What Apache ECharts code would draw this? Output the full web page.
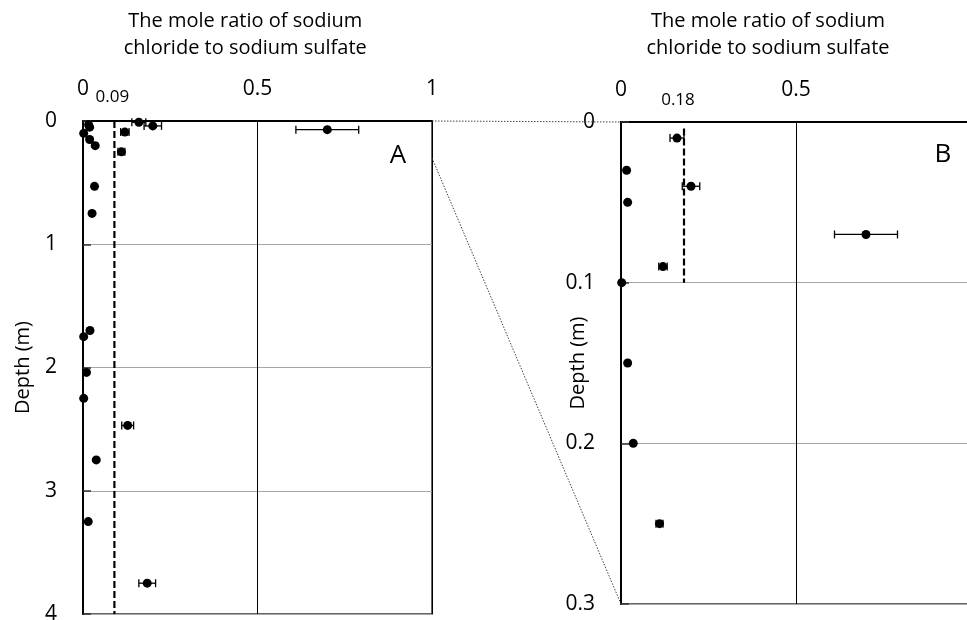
<!DOCTYPE html>
<html>
<head>
<meta charset="utf-8">
<script src="https://cdn.jsdelivr.net/npm/echarts@6/dist/echarts.min.js"></script>
<style>
  html, body { margin: 0; padding: 0; background: #fff; }
  #chart { width: 967px; height: 620px; }
</style>
</head>
<body>
<div id="chart"></div>
<script>
// Shallow samples (0–0.3 m), shown in both panels
const shallowDepth = [0.01, 0.03, 0.04, 0.05, 0.07, 0.09, 0.10, 0.15, 0.20, 0.25];
const shallowRatio = [0.16, 0.016, 0.20, 0.019, 0.70, 0.12, 0.002, 0.019, 0.035, 0.11];
const shallowErr   = [0.02, 0, 0.025, 0, 0.09, 0.012, 0, 0, 0, 0.01];

// Deeper samples, shown in panel A only
const deepDepth = [0.53, 0.75, 1.70, 1.75, 2.04, 2.25, 2.47, 2.75, 3.25, 3.75];
const deepRatio = [0.033, 0.026, 0.02, 0.002, 0.01, 0.002, 0.128, 0.038, 0.015, 0.184];
const deepErr   = [0, 0, 0, 0, 0, 0, 0.017, 0, 0, 0.024];

// Reference ratios (dashed lines)
const refA = 0.09;
const refADepth = [0, 4];
const refB = 0.18;
const refBDepth = [0.004, 0.1];

const xTicks = [0, 0.5, 1];
const yTicksA = [0, 1, 2, 3, 4];
const yTicksB = [0, 0.1, 0.2, 0.3];

const titleLines = ['The mole ratio of sodium', 'chloride to sodium sulfate'];
const FONT = '"Open Sans", "Noto Sans", sans-serif';

const depthA = shallowDepth.concat(deepDepth);
const ratioA = shallowRatio.concat(deepRatio);
const errA = shallowErr.concat(deepErr);

function points(ratio, depth) {
  return ratio.map((r, i) => [r, depth[i]]);
}
function errRows(ratio, depth, err) {
  const rows = [];
  ratio.forEach((r, i) => { if (err[i] > 0) rows.push([r - err[i], r + err[i], depth[i]]); });
  return rows;
}

function errorBarSeries(idx, rows) {
  return {
    type: 'custom',
    xAxisIndex: idx, yAxisIndex: idx,
    data: rows,
    z: 3,
    renderItem: function (params, api) {
      const a = api.coord([api.value(0), api.value(2)]);
      const b = api.coord([api.value(1), api.value(2)]);
      const h = 4;
      const style = { stroke: '#000', lineWidth: 1.3 };
      return {
        type: 'group',
        children: [
          { type: 'line', shape: { x1: a[0], y1: a[1], x2: b[0], y2: b[1] }, style: style },
          { type: 'line', shape: { x1: a[0], y1: a[1] - h, x2: a[0], y2: a[1] + h }, style: style },
          { type: 'line', shape: { x1: b[0], y1: b[1] - h, x2: b[0], y2: b[1] + h }, style: style }
        ]
      };
    }
  };
}

function xAxisDef(idx) {
  return {
    gridIndex: idx, type: 'value', position: 'top',
    min: xTicks[0], max: xTicks[xTicks.length - 1], interval: 0.5,
    axisLine: { show: true, onZero: false, lineStyle: { color: '#000', width: 2 } },
    axisTick: { show: false },
    axisLabel: { color: '#000', fontSize: 21, fontFamily: FONT, margin: 21,
                 formatter: v => (xTicks.indexOf(v) >= 0 ? String(v) : '') },
    splitLine: { show: true, lineStyle: { color: '#000', width: 1 } }
  };
}

function yAxisDef(idx, ticks, interval, gap, margin) {
  return {
    gridIndex: idx, type: 'value', inverse: true,
    min: ticks[0], max: ticks[ticks.length - 1], interval: interval,
    name: 'Depth (m)', nameLocation: 'middle', nameGap: gap, nameRotate: 90,
    nameMoveOverlap: false,
    nameTextStyle: { color: '#000', fontSize: 20, fontFamily: FONT },
    axisLine: { show: true, onZero: false, lineStyle: { color: '#000', width: 2 } },
    axisTick: { show: true, inside: true, length: 8, lineStyle: { color: '#333', width: 1.5 } },
    axisLabel: { color: '#000', fontSize: 21, fontFamily: FONT, margin: margin,
                 formatter: v => String(Math.round(v * 10) / 10) },
    splitLine: { show: true, lineStyle: { color: '#a6a6a6', width: 1.2 } }
  };
}

const chart = echarts.init(document.getElementById('chart'), null, { renderer: 'canvas' });

const option = {
  backgroundColor: '#fff',
  animation: false,
  grid: [
    { left: 83, top: 121, width: 349, height: 493, show: true, borderColor: '#333', borderWidth: 1.5,
      outerBoundsMode: 'none', containLabel: false },
    { left: 621, top: 122, width: 350, height: 482, show: true, borderColor: '#333', borderWidth: 1.5,
      outerBoundsMode: 'none', containLabel: false }
  ],
  xAxis: [xAxisDef(0), xAxisDef(1)],
  yAxis: [
    yAxisDef(0, yTicksA, 1, 50, 26),
    yAxisDef(1, yTicksB, 0.1, 33, 26)
  ],
  series: [
    {
      type: 'line', xAxisIndex: 0, yAxisIndex: 0,
      data: refADepth.map(d => [refA, d]),
      symbol: 'none', z: 2,
      lineStyle: { color: '#000', width: 2.2, type: [7, 3] }
    },
    {
      type: 'line', xAxisIndex: 1, yAxisIndex: 1,
      data: refBDepth.map(d => [refB, d]),
      symbol: 'none', z: 2,
      lineStyle: { color: '#000', width: 2.2, type: [7, 3] }
    },
    errorBarSeries(0, errRows(ratioA, depthA, errA)),
    errorBarSeries(1, errRows(shallowRatio, shallowDepth, shallowErr)),
    {
      type: 'scatter', xAxisIndex: 0, yAxisIndex: 0, clip: false, z: 4,
      data: points(ratioA, depthA), symbol: 'circle', symbolSize: 9,
      itemStyle: { color: '#000', opacity: 1 }
    },
    {
      type: 'scatter', xAxisIndex: 1, yAxisIndex: 1, clip: false, z: 4,
      data: points(shallowRatio, shallowDepth), symbol: 'circle', symbolSize: 9,
      itemStyle: { color: '#000', opacity: 1 }
    }
  ]
};
chart.setOption(option);

// Annotations placed from axis coordinates
const pA0 = chart.convertToPixel({ gridIndex: 0 }, [xTicks[2], 0]);
const pA3 = chart.convertToPixel({ gridIndex: 0 }, [xTicks[2], yTicksB[3]]);
const pB0 = chart.convertToPixel({ gridIndex: 1 }, [0, 0]);
const pB3 = chart.convertToPixel({ gridIndex: 1 }, [0, yTicksB[3]]);
const refAPix = chart.convertToPixel({ gridIndex: 0 }, [refA, 0]);
const refBPix = chart.convertToPixel({ gridIndex: 1 }, [refB, 0]);
const midA = chart.convertToPixel({ gridIndex: 0 }, [0.465, 0]);
const midB = chart.convertToPixel({ gridIndex: 1 }, [0.42, 0]);

function label(x, y, text, size) {
  return { type: 'text', x: x, y: y, z: 10,
           style: { text: text, fill: '#000', font: size + 'px ' + FONT,
                    textAlign: 'center', textVerticalAlign: 'middle' } };
}

chart.setOption({
  graphic: [
    { type: 'line', z: 1, shape: { x1: pA0[0], y1: pA0[1], x2: pB0[0], y2: pB0[1] },
      style: { stroke: '#444', lineWidth: 1, lineDash: [1.5, 1.5] } },
    { type: 'line', z: 1, shape: { x1: pA3[0], y1: pA3[1], x2: pB3[0], y2: pB3[1] },
      style: { stroke: '#444', lineWidth: 1, lineDash: [1.5, 1.5] } },
    label(midA[0], 21, titleLines[0], 20),
    label(midA[0], 48, titleLines[1], 20),
    label(midB[0], 21, titleLines[0], 20),
    label(midB[0], 48, titleLines[1], 20),
    label(refAPix[0] - 2, 97, String(refA), 17),
    label(refBPix[0] - 6, 100, String(refB), 17),
    label(pA0[0] - 34, 156, 'A', 26),
    label(pB0[0] + 322, 155, 'B', 26)
  ]
});
</script>
</body>
</html>
